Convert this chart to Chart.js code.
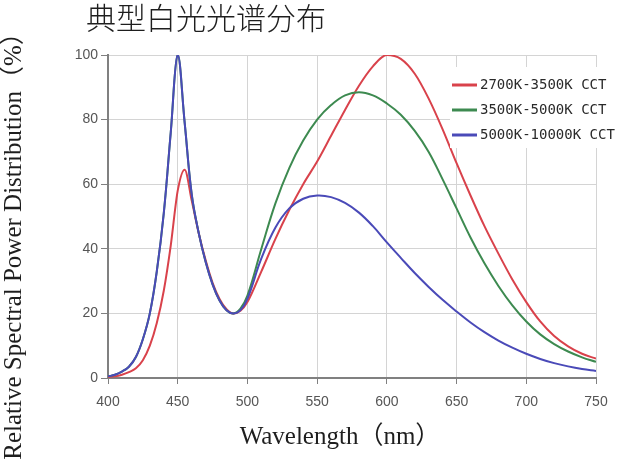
<!DOCTYPE html>
<html>
<head>
<meta charset="utf-8">
<script src="https://cdn.jsdelivr.net/npm/chart.js@4.4.1/dist/chart.umd.min.js"></script>
<style>
  html, body { margin: 0; padding: 0; background: #fff; }
</style>
</head>
<body>
<canvas id="chart_1" width="619" height="468"></canvas>
<script>
// data
const chartTitle = "典型白光光谱分布";
const xTitle = "Wavelength（nm）";
const yTitle = "Relative Spectral Power Distribution（%）";
const seriesLabels = ["2700K-3500K CCT", "3500K-5000K CCT", "5000K-10000K CCT"];
const seriesColors = ["#d9424b", "#3d8a50", "#4a4ab8"];

const wavelengths = [
  400, 405, 410, 415, 420, 425, 430, 435, 440, 445, 450, 455, 460, 465, 470,
  475, 480, 485, 490, 495, 500, 510, 520, 530, 540, 550, 560, 570, 580, 590, 600,
  610, 620, 630, 640, 650, 660, 670, 680, 690, 700, 710, 720, 730, 740, 750,
];
const cct2700 = [
  0.3, 0.5, 1, 1.8, 3, 5.5, 10, 17, 27, 41, 58, 64.5, 55, 45, 36.5,
  29.5, 24.5, 21.3, 20, 20.8, 23.5, 33, 43, 52, 60, 67, 75, 83, 90.5, 96.5, 100,
  98.8, 94.2, 86.5, 77, 66.5, 56.5, 47, 38.5, 30.5, 23.5, 17.5, 13, 9.8, 7.5, 6,
];
const cct3500 = [
  0.5, 1, 2, 3.5, 6.5, 12, 20, 33, 51, 76, 100, 79, 57, 45, 36,
  29, 24, 21, 20, 21.5, 25.5, 40, 54, 65, 73.5, 80, 84.5, 87.5, 88.5, 87.5, 85,
  81.5, 76.5, 70, 61.5, 52.5, 43.5, 35.5, 28.5, 22.5, 17.5, 13.5, 10.5, 8.2, 6.4, 5,
];
const cct5000 = [
  0.5, 1, 2, 3.5, 6.5, 12, 20, 33, 51, 76, 100, 79, 57, 45, 36,
  29, 24, 21, 20, 21, 24.5, 37, 46.5, 52.5, 55.5, 56.5, 56, 54.2, 51.2, 47, 42,
  37.2, 32.5, 28.2, 24.2, 20.6, 17.2, 14.2, 11.6, 9.4, 7.5, 5.9, 4.6, 3.6, 2.8, 2.2,
];
const xTicks = [400, 450, 500, 550, 600, 650, 700, 750];
const yTicks = [0, 20, 40, 60, 80, 100];

const seriesValues = [cct2700, cct3500, cct5000];

// titles drawn on the canvas
const titlesPlugin = {
  id: "titles",
  afterDraw: (chart) => {
    const { ctx } = chart;
    ctx.save();
    ctx.fillStyle = "#1e1e1e";
    ctx.textBaseline = "middle";

    // main title
    ctx.textAlign = "left";
    ctx.font = '300 30px "Noto Sans CJK SC"';
    ctx.fillText(chartTitle, 86, 18);

    // x title
    ctx.textAlign = "center";
    ctx.font = '25px "Liberation Serif", "Noto Sans CJK SC", serif';
    ctx.fillText(xTitle, 340, 437);

    // y title
    ctx.translate(14, 240);
    ctx.rotate(-Math.PI / 2);
    ctx.fillText(yTitle, 0, 0);
    ctx.restore();
  },
};

// legend box inside the plot, upper right
const legendPlugin = {
  id: "insideLegend",
  afterDatasetsDraw: (chart) => {
    const { ctx } = chart;
    ctx.save();
    ctx.fillStyle = "#ffffff";
    ctx.fillRect(450, 67, 169, 81);
    ctx.font = '14px "DejaVu Sans Mono"';
    ctx.textBaseline = "middle";
    ctx.textAlign = "left";
    chart.data.datasets.forEach((ds, i) => {
      const y = 85 + i * 25;
      ctx.strokeStyle = ds.borderColor;
      ctx.lineWidth = 3;
      ctx.beginPath();
      ctx.moveTo(452, y);
      ctx.lineTo(477, y);
      ctx.stroke();
      ctx.fillStyle = "#2a2a2a";
      ctx.fillText(ds.label, 480, y);
    });
    ctx.restore();
  },
};

const ctx_1 = document.getElementById("chart_1");
const chart_1 = new Chart(ctx_1, {
  type: "line",
  data: {
    datasets: seriesLabels.map((label, i) => ({
      label: label,
      data: wavelengths.map((w, j) => ({ x: w, y: seriesValues[i][j] })),
      borderColor: seriesColors[i],
      borderWidth: 2,
      pointRadius: 0,
      tension: 0.4,
      // red peak near 455 looks better without spline overshoot
      cubicInterpolationMode: i === 0 ? "monotone" : "default",
      // blue on top, then green, then red
      order: 2 - i,
    })),
  },
  options: {
    responsive: false,
    animation: false,
    plugins: {
      legend: { display: false },
      tooltip: { enabled: false },
    },
    layout: {
      padding: { left: 68, right: 23, top: 55, bottom: 50 },
    },
    scales: {
      x: {
        type: "linear",
        min: 400,
        max: 750,
        afterBuildTicks: (scale) => {
          scale.ticks = xTicks.map((v) => ({ value: v }));
        },
        afterFit: (scale) => {
          scale.height = 40;
        },
        grid: {
          color: "#d4d4d4",
          lineWidth: 1,
          tickColor: "#808080",
          tickLength: 6,
        },
        border: { color: "#808080", width: 2 },
        ticks: {
          color: "#555",
          padding: 10,
          maxRotation: 0,
          font: { family: "Liberation Sans", size: 14 },
        },
      },
      y: {
        type: "linear",
        min: 0,
        max: 100,
        afterBuildTicks: (scale) => {
          scale.ticks = yTicks.map((v) => ({ value: v }));
        },
        afterFit: (scale) => {
          scale.width = 40;
        },
        grid: {
          color: "#d4d4d4",
          lineWidth: 1,
          tickColor: "#808080",
          tickLength: 7,
        },
        border: { color: "#808080", width: 2 },
        ticks: {
          color: "#555",
          padding: 3,
          font: { family: "Liberation Sans", size: 14 },
        },
      },
    },
  },
  plugins: [legendPlugin, titlesPlugin],
});
</script>
</body>
</html>
